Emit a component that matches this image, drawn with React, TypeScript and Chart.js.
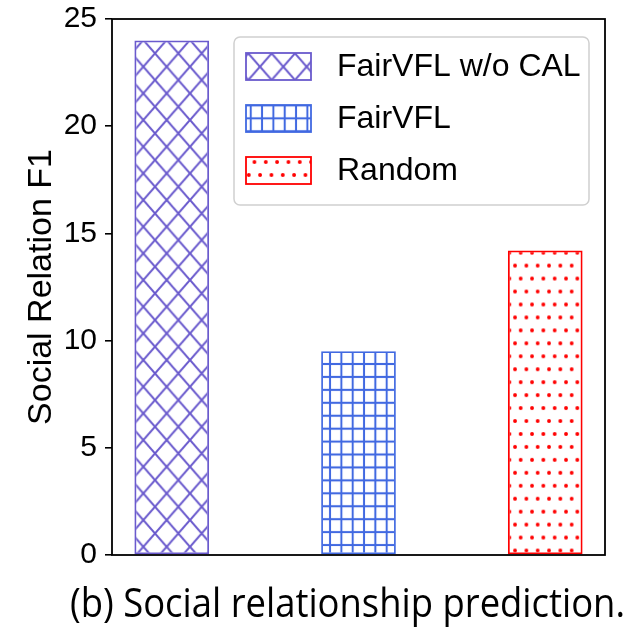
import React, { useEffect, useRef } from 'react';
import { Chart, registerables } from 'chart.js';

Chart.register(...registerables);

const categories = ['FairVFL w/o CAL', 'FairVFL', 'Random'];
const values = [24, 9.5, 14.2];
const yTicks = [0, 5, 10, 15, 20, 25];
const yTitle = 'Social Relation F1';
const caption = '(b) Social relationship prediction.';
const colors = ['#6a5acd', '#4169e1', '#ff0000'];
const hatches = ['x', '+', '.'];

function makePattern(ctx: CanvasRenderingContext2D, kind: string, color: string): CanvasPattern {
  const c = document.createElement('canvas');
  const g = c.getContext('2d') as CanvasRenderingContext2D;
  let m = new DOMMatrix();
  if (kind === 'x') {
    const W = 24, H = 27;
    c.width = W; c.height = H;
    g.strokeStyle = color;
    g.lineWidth = 2.1;
    g.beginPath();
    g.moveTo(-W, -H); g.lineTo(2 * W, 2 * H);
    g.moveTo(2 * W, -H); g.lineTo(-W, 2 * H);
    g.stroke();
    m = m.translate(143.3, 40).scale(23.33 / W, 26.67 / H);
  } else if (kind === '+') {
    const W = 12, H = 13;
    c.width = W; c.height = H;
    g.fillStyle = color;
    const lw = 2.1;
    g.fillRect(-lw / 2, 0, lw, H);
    g.fillRect(W - lw / 2, 0, lw, H);
    g.fillRect(0, -lw / 2, W, lw);
    g.fillRect(0, H - lw / 2, W, lw);
    m = m.translate(330, 545).scale(11.33 / W, 12.93 / H);
  } else {
    const W = 12, H = 26;
    c.width = W; c.height = H;
    g.fillStyle = color;
    const r = 2.05;
    const pts = [[0, 0], [W, 0], [0, H], [W, H], [W / 2, H / 2]];
    for (const [px, py] of pts) {
      g.beginPath();
      g.arc(px, py, r, 0, Math.PI * 2);
      g.fill();
    }
    m = m.translate(515, 343.3).scale(11.33 / W, 25.9 / H);
  }
  const p = ctx.createPattern(c, 'repeat') as CanvasPattern;
  p.setTransform(m);
  return p;
}

export default function App() {
  const ref = useRef<HTMLCanvasElement | null>(null);

  useEffect(() => {
    const canvas = ref.current;
    if (!canvas) return;
    const ctx = canvas.getContext('2d') as CanvasRenderingContext2D;
    const patterns = hatches.map((h, i) => makePattern(ctx, h, colors[i]));

    const framePlugin = {
      id: 'frame',
      afterDatasetsDraw(chart: any) {
        const { ctx: c, chartArea: a } = chart;
        c.save();
        c.strokeStyle = '#000';
        c.lineWidth = 1.8;
        c.strokeRect(a.left, a.top, a.right - a.left, a.bottom - a.top);
        c.restore();
      },
    };

    const legendPlugin = {
      id: 'innerLegend',
      afterDraw(chart: any) {
        const c = chart.ctx as CanvasRenderingContext2D;
        c.save();
        c.beginPath();
        (c as any).roundRect(234, 37, 355, 168, 6);
        c.fillStyle = 'rgba(255,255,255,0.85)';
        c.fill();
        c.strokeStyle = '#d0d0d0';
        c.lineWidth = 1.5;
        c.stroke();
        categories.forEach((label, i) => {
          const y = 53 + i * 52;
          c.fillStyle = patterns[i];
          c.fillRect(246, y, 65, 27);
          c.strokeStyle = colors[i];
          c.lineWidth = 1.8;
          c.strokeRect(246, y, 65, 27);
          c.fillStyle = '#000';
          c.font = '32px "Liberation Sans", Arial, sans-serif';
          c.textBaseline = 'middle';
          c.textAlign = 'left';
          c.fillText(label, 337, y + 14);
        });
        c.restore();
      },
    };

    const captionPlugin = {
      id: 'caption',
      afterDraw(chart: any) {
        const c = chart.ctx as CanvasRenderingContext2D;
        c.save();
        c.font = '500 41px "Open Sans", sans-serif';
        c.fillStyle = '#000';
        c.textBaseline = 'alphabetic';
        c.textAlign = 'left';
        const w = c.measureText(caption).width;
        const sx = 555 / w;
        c.translate(70, 617);
        c.scale(sx, 1);
        c.fillText(caption, 0, 0);
        c.restore();
      },
    };

    const chart = new Chart(canvas, {
      type: 'bar',
      data: {
        datasets: [
          {
            label: yTitle,
            data: values.map((v, i) => ({ x: i, y: v })),
            backgroundColor: patterns,
            borderColor: colors,
            borderWidth: 1.8,
            borderSkipped: false,
            categoryPercentage: 0.4,
            barPercentage: 1,
          } as any,
        ],
      },
      options: {
        responsive: false,
        animation: false,
        layout: { padding: { top: 19, right: 38, left: 0, bottom: 0 } },
        plugins: {
          legend: { display: false },
          tooltip: { enabled: false },
        },
        scales: {
          x: {
            type: 'linear',
            offset: false,
            min: -0.32,
            max: 2.32,
            afterBuildTicks: (s: any) => {
              s.ticks = categories.map((_, i) => ({ value: i }));
            },
            ticks: { display: false },
            grid: { display: false },
            border: { display: false },
            afterFit: (s: any) => {
              s.height = 74;
              s.paddingLeft = 0;
              s.paddingRight = 0;
            },
          },
          y: {
            min: 0,
            max: 25,
            afterBuildTicks: (s: any) => {
              s.ticks = yTicks.map((v) => ({ value: v }));
            },
            ticks: {
              font: { family: '"Liberation Sans", Arial, sans-serif', size: 30 },
              color: '#000',
              padding: 8,
            },
            grid: {
              drawOnChartArea: false,
              drawTicks: true,
              tickLength: 7,
              color: '#000',
              lineWidth: 1.6,
            },
            border: { display: false },
            title: {
              display: true,
              text: yTitle,
              color: '#000',
              font: { family: '"Liberation Sans", Arial, sans-serif', size: 34 },
              padding: { top: 21, bottom: 0 },
            },
            afterFit: (s: any) => {
              s.width = 112;
              s.paddingTop = 0;
              s.paddingBottom = 0;
            },
          },
        },
      } as any,
      plugins: [framePlugin, legendPlugin, captionPlugin],
    });

    return () => chart.destroy();
  }, []);

  return (
    <div style={{ position: 'absolute', left: 0, top: 0, width: 643, height: 629, background: '#fff' }}>
      <canvas ref={ref} width={643} height={629} style={{ display: 'block' }} />
    </div>
  );
}
